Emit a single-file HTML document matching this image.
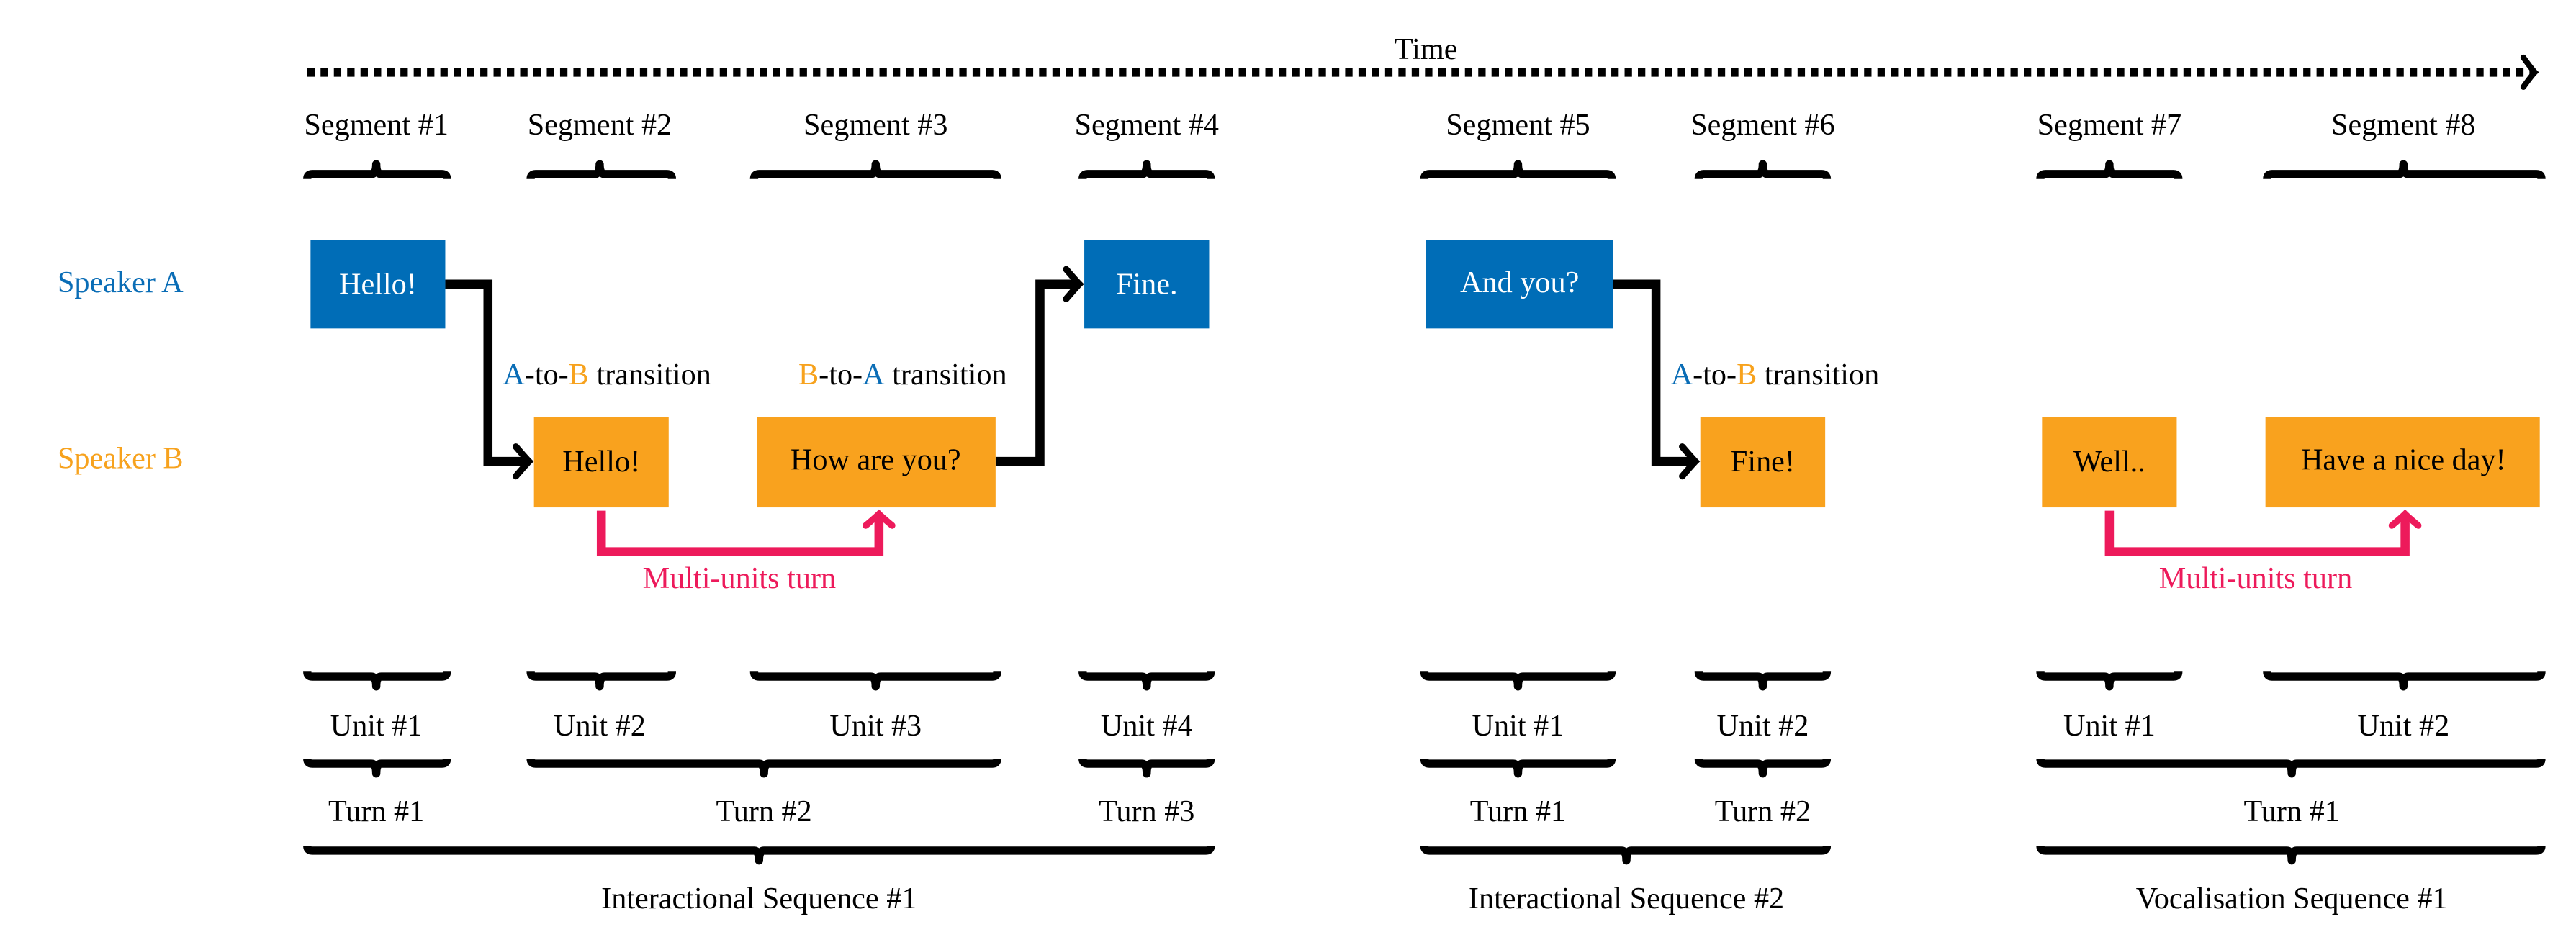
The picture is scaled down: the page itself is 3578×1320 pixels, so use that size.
<!DOCTYPE html>
<html><head><meta charset="utf-8"><style>
html,body{margin:0;padding:0;background:#fff}
svg{display:block}
svg text{font-family:"Times New Roman",Times,"Liberation Serif","DejaVu Serif",serif;font-size:18.5px}
</style></head><body>
<svg width="3578" height="1320" viewBox="0 0 1568 578.5" xmlns="http://www.w3.org/2000/svg" style="font-family:'Times New Roman',Times,'Liberation Serif','DejaVu Serif',serif">
<defs>
<marker id="ab" markerUnits="userSpaceOnUse" markerWidth="20" markerHeight="24" refX="10" refY="12" orient="auto" viewBox="0 0 20 24">
<path d="M3,3 Q9,10 11,12 Q9,14 3,21" fill="none" stroke="#000" stroke-width="4" stroke-linecap="round"/>
</marker>
<marker id="ap" markerUnits="userSpaceOnUse" markerWidth="20" markerHeight="24" refX="10" refY="12" orient="auto" viewBox="0 0 20 24">
<path d="M4,4 Q9,10 11,12 Q9,14 4,20" fill="none" stroke="#ED1A5B" stroke-width="4" stroke-linecap="round"/>
</marker>
<marker id="at" markerUnits="userSpaceOnUse" markerWidth="20" markerHeight="24" refX="8" refY="12" orient="auto" viewBox="0 0 20 24">
<path d="M2,3 Q7,10 9,12 Q7,14 2,21" fill="none" stroke="#000" stroke-width="3.5" stroke-linecap="round"/>
</marker>
</defs>

<line x1="187" y1="44" x2="1542" y2="44" stroke="#000" stroke-width="5.5" stroke-dasharray="4.5 3.6" marker-end="url(#at)"/>
<text x="868" y="36" text-anchor="middle">Time</text>

<g text-anchor="middle">
<text x="229" y="82">Segment #1</text>
<text x="365" y="82">Segment #2</text>
<text x="533" y="82">Segment #3</text>
<text x="698" y="82">Segment #4</text>
<text x="924" y="82">Segment #5</text>
<text x="1073" y="82">Segment #6</text>
<text x="1284" y="82">Segment #7</text>
<text x="1463" y="82">Segment #8</text>
</g>

<g fill="none" stroke="#000" stroke-width="5" stroke-linejoin="round">
<path d="M187,109 Q187,106 190,106 L226,106 Q229,106 229,100 Q229,106 232,106 L269,106 Q272,106 272,109"/>
<path d="M323,109 Q323,106 326,106 L362,106 Q365,106 365,100 Q365,106 368,106 L406,106 Q409,106 409,109"/>
<path d="M459,109 Q459,106 462,106 L530,106 Q533,106 533,100 Q533,106 536,106 L604,106 Q607,106 607,109"/>
<path d="M659,109 Q659,106 662,106 L695,106 Q698,106 698,100 Q698,106 701,106 L734,106 Q737,106 737,109"/>
<path d="M867,109 Q867,106 870,106 L921,106 Q924,106 924,100 Q924,106 927,106 L978,106 Q981,106 981,109"/>
<path d="M1034,109 Q1034,106 1037,106 L1070,106 Q1073,106 1073,100 Q1073,106 1076,106 L1109,106 Q1112,106 1112,109"/>
<path d="M1242,109 Q1242,106 1245,106 L1281,106 Q1284,106 1284,100 Q1284,106 1287,106 L1323,106 Q1326,106 1326,109"/>
<path d="M1380,109 Q1380,106 1383,106 L1460,106 Q1463,106 1463,100 Q1463,106 1466,106 L1544,106 Q1547,106 1547,109"/>
</g>

<text x="35" y="178" fill="#0A6DB6">Speaker A</text>
<text x="35" y="285" fill="#F7A21D">Speaker B</text>

<path d="M271,173 L297,173 L297,281 L321,281" fill="none" stroke="#000" stroke-width="5.5" marker-end="url(#ab)"/>
<path d="M606,281 L633,281 L633,173 L656,173" fill="none" stroke="#000" stroke-width="5.5" marker-end="url(#ab)"/>
<path d="M982,173 L1008,173 L1008,281 L1031,281" fill="none" stroke="#000" stroke-width="5.5" marker-end="url(#ab)"/>
<path d="M366,311 L366,336 L535,336 L535,314" fill="none" stroke="#ED1A5B" stroke-width="5.5" marker-end="url(#ap)"/>
<path d="M1284,311 L1284,336 L1464,336 L1464,314" fill="none" stroke="#ED1A5B" stroke-width="5.5" marker-end="url(#ap)"/>

<g fill="#006DB7">
<rect x="189" y="146" width="82" height="54"/>
<rect x="660" y="146" width="76" height="54"/>
<rect x="868" y="146" width="114" height="54"/>
</g>
<g fill="#F9A21E">
<rect x="325" y="254" width="82" height="55"/>
<rect x="461" y="254" width="145" height="55"/>
<rect x="1035" y="254" width="76" height="55"/>
<rect x="1243" y="254" width="82" height="55"/>
<rect x="1379" y="254" width="167" height="55"/>
</g>
<g text-anchor="middle">
<text x="230" y="179" fill="#fff">Hello!</text>
<text x="698" y="179" fill="#fff">Fine.</text>
<text x="925" y="178" fill="#fff">And you?</text>
<text x="366" y="287">Hello!</text>
<text x="533" y="286">How are you?</text>
<text x="1073" y="287">Fine!</text>
<text x="1284" y="287">Well..</text>
<text x="1463" y="286">Have a nice day!</text>
</g>

<text x="306" y="234"><tspan fill="#0A6DB6">A</tspan>-to-<tspan fill="#F7A21D">B</tspan> transition</text>
<text x="486" y="234"><tspan fill="#F7A21D">B</tspan>-to-<tspan fill="#0A6DB6">A</tspan> transition</text>
<text x="1017" y="234"><tspan fill="#0A6DB6">A</tspan>-to-<tspan fill="#F7A21D">B</tspan> transition</text>
<text x="450" y="358" text-anchor="middle" fill="#ED1A5B">Multi-units turn</text>
<text x="1373" y="358" text-anchor="middle" fill="#ED1A5B">Multi-units turn</text>

<g fill="none" stroke="#000" stroke-width="5" stroke-linejoin="round">
<path d="M187,409 Q187,412 190,412 L226,412 Q229,412 229,418 Q229,412 232,412 L269,412 Q272,412 272,409"/>
<path d="M323,409 Q323,412 326,412 L362,412 Q365,412 365,418 Q365,412 368,412 L406,412 Q409,412 409,409"/>
<path d="M459,409 Q459,412 462,412 L530,412 Q533,412 533,418 Q533,412 536,412 L604,412 Q607,412 607,409"/>
<path d="M659,409 Q659,412 662,412 L695,412 Q698,412 698,418 Q698,412 701,412 L734,412 Q737,412 737,409"/>
<path d="M867,409 Q867,412 870,412 L921,412 Q924,412 924,418 Q924,412 927,412 L978,412 Q981,412 981,409"/>
<path d="M1034,409 Q1034,412 1037,412 L1070,412 Q1073,412 1073,418 Q1073,412 1076,412 L1109,412 Q1112,412 1112,409"/>
<path d="M1242,409 Q1242,412 1245,412 L1281,412 Q1284,412 1284,418 Q1284,412 1287,412 L1323,412 Q1326,412 1326,409"/>
<path d="M1380,409 Q1380,412 1383,412 L1460,412 Q1463,412 1463,418 Q1463,412 1466,412 L1544,412 Q1547,412 1547,409"/>
<path d="M187,462 Q187,465 190,465 L226,465 Q229,465 229,471 Q229,465 232,465 L269,465 Q272,465 272,462"/>
<path d="M323,462 Q323,465 326,465 L462,465 Q465,465 465,471 Q465,465 468,465 L604,465 Q607,465 607,462"/>
<path d="M659,462 Q659,465 662,465 L695,465 Q698,465 698,471 Q698,465 701,465 L734,465 Q737,465 737,462"/>
<path d="M867,462 Q867,465 870,465 L921,465 Q924,465 924,471 Q924,465 927,465 L978,465 Q981,465 981,462"/>
<path d="M1034,462 Q1034,465 1037,465 L1070,465 Q1073,465 1073,471 Q1073,465 1076,465 L1109,465 Q1112,465 1112,462"/>
<path d="M1242,462 Q1242,465 1245,465 L1392,465 Q1395,465 1395,471 Q1395,465 1398,465 L1544,465 Q1547,465 1547,462"/>
<path d="M187,515 Q187,518 190,518 L459,518 Q462,518 462,524 Q462,518 465,518 L734,518 Q737,518 737,515"/>
<path d="M867,515 Q867,518 870,518 L987,518 Q990,518 990,524 Q990,518 993,518 L1109,518 Q1112,518 1112,515"/>
<path d="M1242,515 Q1242,518 1245,518 L1392,518 Q1395,518 1395,524 Q1395,518 1398,518 L1544,518 Q1547,518 1547,515"/>
</g>

<g text-anchor="middle">
<text x="229" y="448">Unit #1</text>
<text x="365" y="448">Unit #2</text>
<text x="533" y="448">Unit #3</text>
<text x="698" y="448">Unit #4</text>
<text x="924" y="448">Unit #1</text>
<text x="1073" y="448">Unit #2</text>
<text x="1284" y="448">Unit #1</text>
<text x="1463" y="448">Unit #2</text>
<text x="229" y="500">Turn #1</text>
<text x="465" y="500">Turn #2</text>
<text x="698" y="500">Turn #3</text>
<text x="924" y="500">Turn #1</text>
<text x="1073" y="500">Turn #2</text>
<text x="1395" y="500">Turn #1</text>
<text x="462" y="553">Interactional Sequence #1</text>
<text x="990" y="553">Interactional Sequence #2</text>
<text x="1395" y="553">Vocalisation Sequence #1</text>
</g>
</svg>
</body></html>
